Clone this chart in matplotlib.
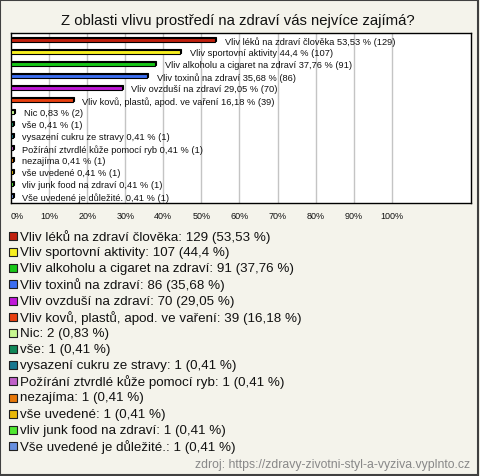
import matplotlib
matplotlib.use("Agg")
import matplotlib.pyplot as plt
from matplotlib.patches import Rectangle

plt.rcParams['font.family'] = ['Liberation Sans', 'DejaVu Sans']

title = "Z oblasti vlivu prostředí na zdraví vás nejvíce zajímá?"
categories = [
    "Vliv léků na zdraví člověka",
    "Vliv sportovní aktivity",
    "Vliv alkoholu a cigaret na zdraví",
    "Vliv toxinů na zdraví",
    "Vliv ovzduší na zdraví",
    "Vliv kovů, plastů, apod. ve vaření",
    "Nic",
    "vše",
    "vysazení cukru ze stravy",
    "Požírání ztvrdlé kůže pomocí ryb",
    "nezajíma",
    "vše uvedené",
    "vliv junk food na zdraví",
    "Vše uvedené je důležité.",
]
counts = [129, 107, 91, 86, 70, 39, 2, 1, 1, 1, 1, 1, 1, 1]
percents = [53.53, 44.4, 37.76, 35.68, 29.05, 16.18, 0.83, 0.41, 0.41, 0.41, 0.41, 0.41, 0.41, 0.41]
pct_text = ["53,53", "44,4", "37,76", "35,68", "29,05", "16,18", "0,83",
            "0,41", "0,41", "0,41", "0,41", "0,41", "0,41", "0,41"]
colors = ["#c0200e", "#f8f020", "#18c818", "#3c6ef0", "#c018d8", "#e84010",
          "#c8f890", "#108858", "#187890", "#c060c8", "#e87808", "#e8b808",
          "#50e830", "#6890e0"]
xticks = [0, 10, 20, 30, 40, 50, 60, 70, 80, 90, 100]
source = "zdroj: https://zdravy-zivotni-styl-a-vyziva.vyplnto.cz"

W, H = 480, 477
fig = plt.figure(figsize=(W / 100, H / 100), dpi=100)
fig.patch.set_facecolor("#f4f3eb")
fig.patches.append(Rectangle((0.001, 0.002), 0.995, 0.996, transform=fig.transFigure,
                             fill=False, edgecolor="#404040", linewidth=1.5))

fig.text(237.5 / W, 1 - 20.5 / H, title, ha="center", va="center", fontsize=10.7, color="#111111")

ax = fig.add_axes([11 / W, 1 - 204 / H, 460 / W, 170 / H])
ax.set_facecolor("white")
n = len(categories)
ys = list(range(n))
px = 100 / 379.5
py = 1 / 12.0
# shadow (3D depth) bars
ax.barh([y - 1.2 * py for y in ys], percents, left=[1.2 * px] * n, height=0.36,
        color="black", edgecolor="black", linewidth=0.8, zorder=2)
ax.barh(ys, percents, height=0.36, color=colors, edgecolor="black", linewidth=0.8, zorder=3)
for y, c, cnt, pt in zip(ys, categories, counts, percents):
    ax.annotate(f"{c} {pct_text[y]} % ({cnt})", xy=(pt, y), xytext=(7, -0.5),
                textcoords="offset points", ha="left", va="center", fontsize=6.7,
                color="#111111", zorder=4)
ax.set_xlim(0, 120.8)
ax.set_ylim(n - 1 + 0.58, -0.58)
ax.set_yticks([])
ax.set_xticks(xticks[1:])
ax.xaxis.grid(True, color="#c4c4c4", linewidth=1, zorder=0)
ax.set_axisbelow(True)
ax.tick_params(axis="x", length=0, labelbottom=False)
for s in ax.spines.values():
    s.set_color("black")
    s.set_linewidth(1)
for t in xticks:
    ax.annotate(f"{t}%", xy=(t, 0), xycoords=("data", "axes fraction"),
                xytext=(0, -9), textcoords="offset points", annotation_clip=False,
                ha="left" if t == 0 else "center", va="center", fontsize=6.5,
                color="#111111")

# legend
lax = fig.add_axes([0, 0, 1, 1])
lax.set_xlim(0, W)
lax.set_ylim(H, 0)
lax.axis("off")
y0, dy = 237.0, 16.15
for i, (c, cnt, col) in enumerate(zip(categories, counts, colors)):
    y = y0 + i * dy
    lax.scatter([12.8], [y], marker="s", s=38, color=col, edgecolors="#202020", linewidths=0.8)
    lax.text(19.5, y, f"{c}: {cnt} ({pct_text[i]} %)", ha="left", va="center",
             fontsize=9.6, color="#111111")
lax.text(470, 465, source, ha="right", va="center", fontsize=8.8, color="#888888")

fig.savefig("out.png", dpi=100, facecolor=fig.get_facecolor())
